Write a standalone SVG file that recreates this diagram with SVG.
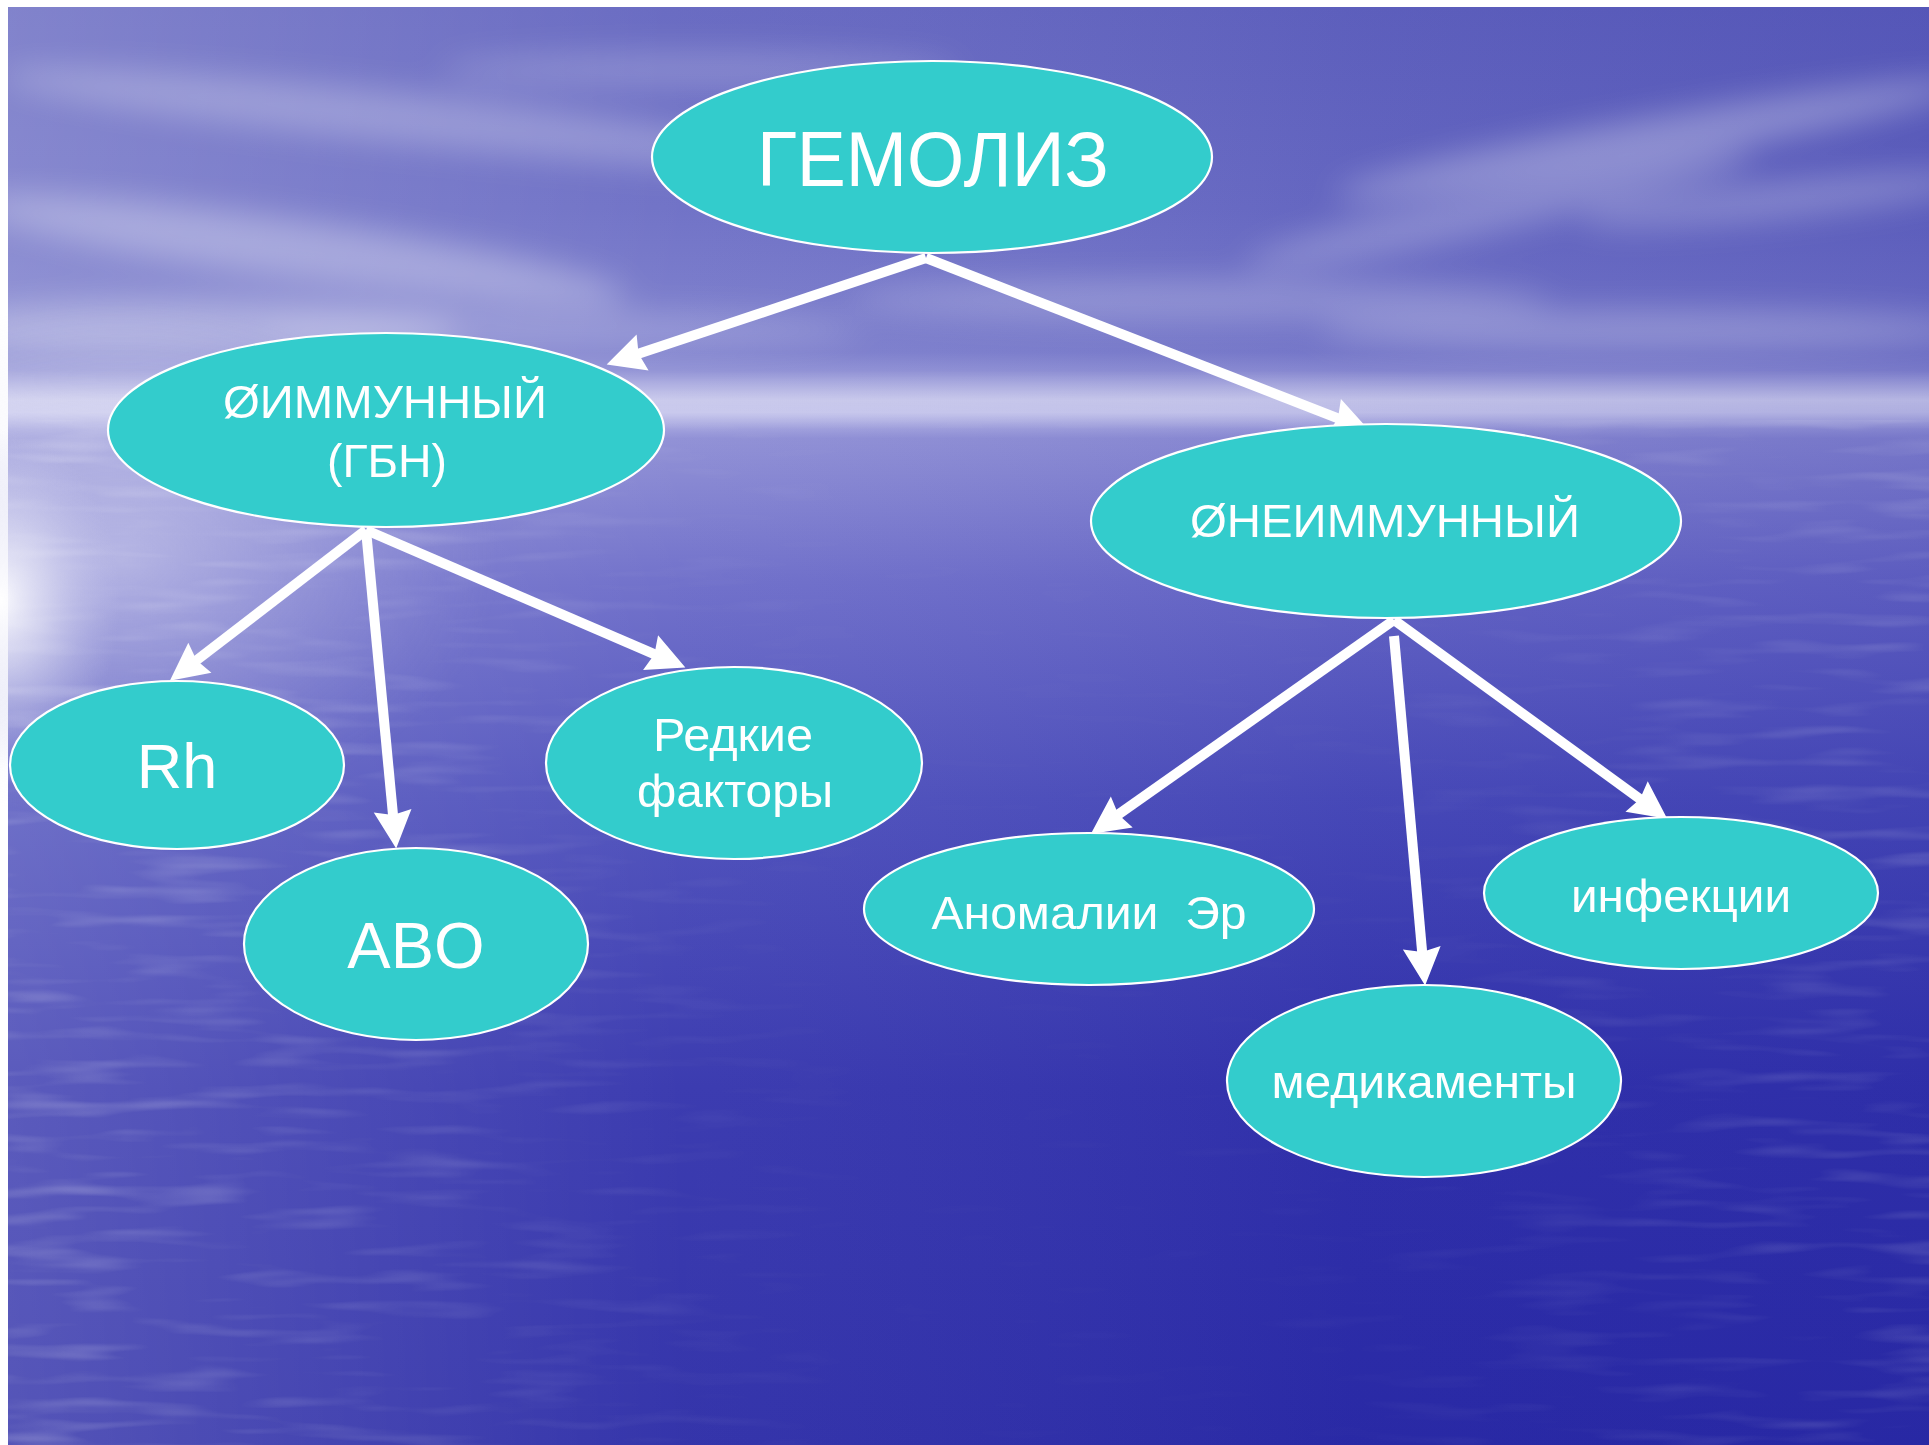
<svg xmlns="http://www.w3.org/2000/svg" width="1929" height="1445" viewBox="0 0 1929 1445">
<style>
.node ellipse{fill:#33CCCC;stroke:#ffffff;stroke-width:2.2}
.node text{font-family:"Liberation Sans",Arial,sans-serif;fill:#ffffff;text-anchor:middle}
.conn line{stroke:#ffffff;stroke-width:10;marker-end:url(#ah)}
</style>
<defs>
<marker id="ah" markerUnits="userSpaceOnUse" markerWidth="40" markerHeight="40" viewBox="0 0 38 38" refX="8" refY="18" orient="auto" overflow="visible">
<path d="M0,0 L36,18 L0,36 L4,18 Z" fill="#ffffff"/>
</marker>
<linearGradient id="bgv" x1="0" y1="0" x2="0" y2="1">
<stop offset="0" stop-color="#6264bf"/>
<stop offset="0.14" stop-color="#6a6cc4"/>
<stop offset="0.24" stop-color="#7b7dcc"/>
<stop offset="0.272" stop-color="#a8a8e0"/>
<stop offset="0.282" stop-color="#b8b8e8"/>
<stop offset="0.3" stop-color="#8c8cd4"/>
<stop offset="0.4" stop-color="#6a6ac8"/>
<stop offset="0.55" stop-color="#4a4cba"/>
<stop offset="0.75" stop-color="#3232ac"/>
<stop offset="1" stop-color="#2a2aa6"/>
</linearGradient>
<linearGradient id="bgh" x1="0" y1="0" x2="1" y2="0">
<stop offset="0" stop-color="#ffffff" stop-opacity="0.2"/>
<stop offset="0.35" stop-color="#ffffff" stop-opacity="0.05"/>
<stop offset="0.7" stop-color="#20209a" stop-opacity="0.08"/>
<stop offset="1" stop-color="#20209a" stop-opacity="0.2"/>
</linearGradient>
<radialGradient id="glow" cx="0.5" cy="0.5" r="0.5">
<stop offset="0" stop-color="#ffffff" stop-opacity="0.95"/>
<stop offset="0.4" stop-color="#ececf8" stop-opacity="0.6"/>
<stop offset="1" stop-color="#c8c8ec" stop-opacity="0"/>
</radialGradient>
<linearGradient id="hz" x1="0" y1="0" x2="0" y2="1">
<stop offset="0" stop-color="#ffffff" stop-opacity="0"/>
<stop offset="0.5" stop-color="#ffffff" stop-opacity="0.35"/>
<stop offset="1" stop-color="#ffffff" stop-opacity="0"/>
</linearGradient>
<filter id="blur" x="-20%" y="-50%" width="140%" height="200%"><feGaussianBlur stdDeviation="16"/></filter>
<filter id="ripples" x="0" y="0" width="100%" height="100%">
<feTurbulence type="fractalNoise" baseFrequency="0.008 0.07" numOctaves="2" seed="4"/>
<feColorMatrix type="matrix" values="0 0 0 0 1  0 0 0 0 1  0 0 0 0 1  0 0 0 2.2 -1.1"/>
</filter>
<linearGradient id="ripfade" x1="0" y1="0" x2="1" y2="0">
<stop offset="0" stop-color="#fff" stop-opacity="1"/>
<stop offset="0.25" stop-color="#fff" stop-opacity="0.5"/>
<stop offset="0.45" stop-color="#fff" stop-opacity="0.05"/>
<stop offset="0.7" stop-color="#fff" stop-opacity="0.1"/>
<stop offset="1" stop-color="#fff" stop-opacity="0.7"/>
</linearGradient>
<mask id="ripmask"><rect x="0" y="420" width="1929" height="1025" fill="url(#ripfade)"/></mask>
</defs>

<rect width="1929" height="1445" fill="#ffffff"/>
<g id="background">
<rect x="8" y="7" width="1921" height="1438" fill="url(#bgv)"/>
<rect x="8" y="7" width="1921" height="1438" fill="url(#bgh)"/>
<g filter="url(#blur)" fill="#ffffff">
<ellipse cx="420" cy="120" rx="420" ry="26" opacity="0.25" transform="rotate(6 420 120)"/>
<ellipse cx="700" cy="70" rx="260" ry="18" opacity="0.2"/>
<ellipse cx="300" cy="250" rx="330" ry="30" opacity="0.3" transform="rotate(8 300 250)"/>
<ellipse cx="200" cy="330" rx="260" ry="30" opacity="0.3"/>
<ellipse cx="560" cy="330" rx="300" ry="18" opacity="0.2"/>
<ellipse cx="1650" cy="140" rx="320" ry="22" opacity="0.3" transform="rotate(-10 1650 140)"/>
<ellipse cx="1500" cy="210" rx="260" ry="20" opacity="0.25" transform="rotate(-12 1500 210)"/>
<ellipse cx="1780" cy="200" rx="200" ry="18" opacity="0.25" transform="rotate(-6 1780 200)"/>
<ellipse cx="1200" cy="300" rx="350" ry="20" opacity="0.22"/>
<ellipse cx="1650" cy="330" rx="330" ry="20" opacity="0.25"/>
</g>
<rect x="8" y="370" width="1921" height="60" fill="url(#hz)"/>
<rect x="8" y="420" width="1921" height="1025" filter="url(#ripples)" opacity="0.25" mask="url(#ripmask)"/>
<ellipse cx="120" cy="560" rx="380" ry="260" fill="url(#glow)" opacity="0.4"/>
<ellipse cx="0" cy="600" rx="120" ry="170" fill="url(#glow)"/>
</g>

<g id="connectors" class="conn">
<line x1="926" y1="258" x2="634.6" y2="355.1"/>
<line x1="926" y1="258" x2="1341.9" y2="419.8"/>
<line x1="366" y1="530" x2="193.2" y2="662.9"/>
<line x1="366" y1="530" x2="393.4" y2="819.1"/>
<line x1="366" y1="530" x2="658.3" y2="655.9"/>
<line x1="1394" y1="620" x2="1114.9" y2="816.9"/>
<line x1="1394" y1="636" x2="1422.5" y2="956.1"/>
<line x1="1394" y1="620" x2="1643.4" y2="801.5"/>
</g>

<g id="node-gemoliz" class="node">
<ellipse cx="932" cy="157" rx="280" ry="96"/>
<text x="933" y="186" font-size="77" textLength="352" lengthAdjust="spacingAndGlyphs">ГЕМОЛИЗ</text>
</g>
<g id="node-immunny" class="node">
<ellipse cx="386" cy="430" rx="278" ry="97"/>
<text x="385" y="418" font-size="47" textLength="324" lengthAdjust="spacingAndGlyphs">ØИММУННЫЙ</text>
<text x="387" y="477" font-size="47" textLength="120" lengthAdjust="spacingAndGlyphs">(ГБН)</text>
</g>
<g id="node-neimmunny" class="node">
<ellipse cx="1386" cy="521" rx="295" ry="97"/>
<text x="1385" y="537" font-size="47" textLength="390" lengthAdjust="spacingAndGlyphs">ØНЕИММУННЫЙ</text>
</g>
<g id="node-rh" class="node">
<ellipse cx="177" cy="765" rx="167" ry="84"/>
<text x="177" y="788" font-size="63">Rh</text>
</g>
<g id="node-abo" class="node">
<ellipse cx="416" cy="944" rx="172" ry="96"/>
<text x="416" y="968" font-size="65">ABO</text>
</g>
<g id="node-redkie" class="node">
<ellipse cx="734" cy="763" rx="188" ry="96"/>
<text x="733" y="751" font-size="46" textLength="160" lengthAdjust="spacingAndGlyphs">Редкие</text>
<text x="735" y="807" font-size="46" textLength="196" lengthAdjust="spacingAndGlyphs">факторы</text>
</g>
<g id="node-anomalii" class="node">
<ellipse cx="1089" cy="909" rx="225" ry="76"/>
<text x="1089" y="929" font-size="47" textLength="315" lengthAdjust="spacingAndGlyphs" xml:space="preserve">Аномалии  Эр</text>
</g>
<g id="node-infekcii" class="node">
<ellipse cx="1681" cy="893" rx="197" ry="76"/>
<text x="1681" y="912" font-size="47" textLength="220" lengthAdjust="spacingAndGlyphs">инфекции</text>
</g>
<g id="node-medikamenty" class="node">
<ellipse cx="1424" cy="1081" rx="197" ry="96"/>
<text x="1424" y="1098" font-size="47" textLength="305" lengthAdjust="spacingAndGlyphs">медикаменты</text>
</g>
</svg>
